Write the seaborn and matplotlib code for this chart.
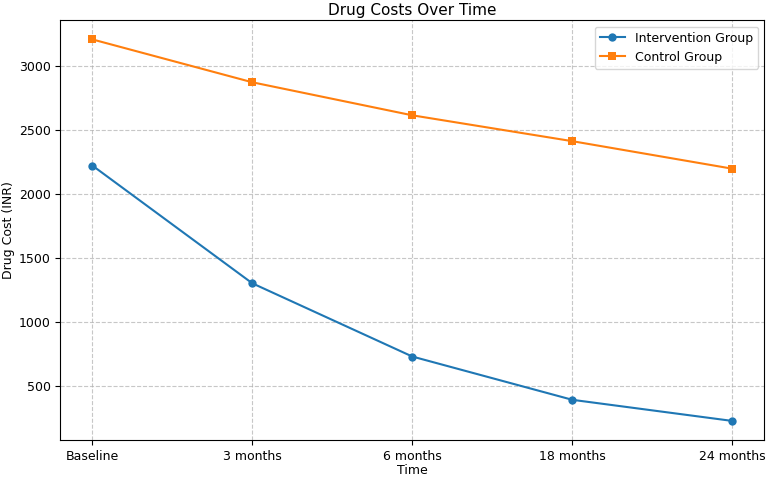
import matplotlib
matplotlib.use("Agg")
import matplotlib.pyplot as plt
import seaborn as sns
import pandas as pd

time_points = ["Baseline", "3 months", "6 months", "18 months", "24 months"]
intervention = [2220, 1300, 728, 390, 225]
control = [3205, 2870, 2612, 2410, 2195]

df = pd.DataFrame({
    "Time": time_points * 2,
    "Cost": intervention + control,
    "Group": ["Intervention Group"] * len(time_points) + ["Control Group"] * len(time_points),
})
df["x"] = list(range(len(time_points))) * 2

fig = plt.figure(figsize=(7.67, 4.79), dpi=100)
ax = fig.add_axes([0.0786, 0.0814, 0.9179, 0.8762])

colors = {"Intervention Group": "#1f77b4", "Control Group": "#ff7f0e"}
markers = {"Intervention Group": "o", "Control Group": "s"}
for grp in ["Intervention Group", "Control Group"]:
    sub = df[df["Group"] == grp]
    sns.lineplot(data=sub, x="x", y="Cost", ax=ax, color=colors[grp], marker=markers[grp],
                 markersize=6, markeredgewidth=0, linewidth=1.5, label=grp)

ax.set_xticks(range(len(time_points)))
ax.set_xticklabels(time_points)
ax.margins(x=0.05, y=0.05)
ax.set_title("Drug Costs Over Time", fontsize=11, pad=4)
ax.set_xlabel("Time", fontsize=9, labelpad=1)
ax.set_ylabel("Drug Cost (INR)", fontsize=9, labelpad=3)
ax.tick_params(labelsize=9)
ax.grid(True, linestyle="--", alpha=0.7)
ax.legend(loc="upper right", fontsize=9)

fig.savefig("out.png", dpi=100)
